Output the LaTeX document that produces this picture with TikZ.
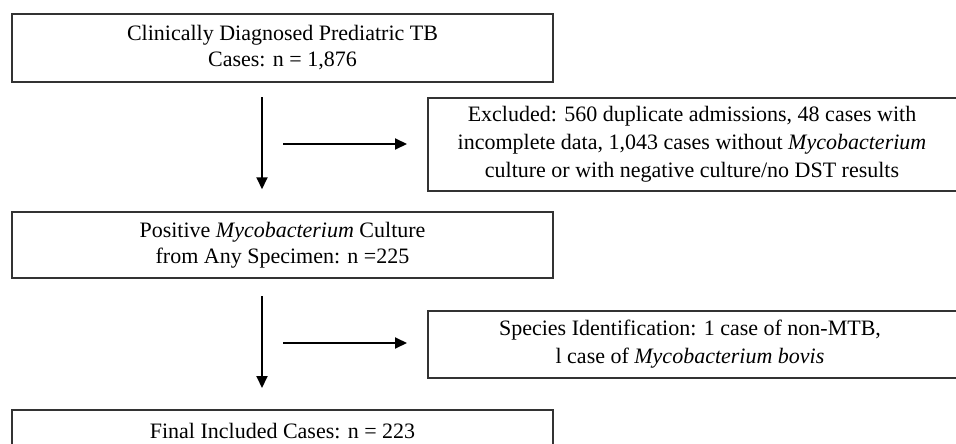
\documentclass[tikz,border=0pt]{standalone}
\usepackage{fontspec}
\setmainfont{Liberation Serif}
\usetikzlibrary{arrows.meta}
\begin{document}
\begin{tikzpicture}[x=1pt, y=-1pt,
		box/.style={draw=black!80, line width=1.5pt, minimum width=541pt, align=center, font=\fontsize{22}{26}\selectfont},
		frame/.style={draw=black!80, line width=1.5pt, anchor=north west, minimum width=560pt, inner sep=0pt},
		note/.style={align=center, font=\fontsize{22}{28}\selectfont},
		flow/.style={line width=2pt, -{Triangle[length=12pt,width=11pt]}}]
	\useasboundingbox (0,0) rectangle (956,444);
	\node[box, minimum height=68pt] (diag) at (282.5,48) {Clinically Diagnosed Prediatric TB\\Cases: n = 1,876};
	\node[box, minimum height=66pt] (pos) at (282.5,245) {Positive \textit{Mycobacterium} Culture\\from Any Specimen: n =225};
	\node[box, minimum height=42pt, anchor=north] (final) at (282.5,409) {Final Included Cases: n = 223};
	\node[frame, minimum height=93pt] (exclbox) at (427,97) {};
	\node[note] (excl) at (692,144) {Excluded: 560 duplicate admissions, 48 cases with\\incomplete data, 1,043 cases without \textit{Mycobacterium}\\culture or with negative culture/no DST results};
	\node[frame, minimum height=67pt] (specbox) at (427,310) {};
	\node[note] (spec) at (690,344) {Species Identification: 1 case of non-MTB,\\l case of \textit{Mycobacterium bovis}};
	\coordinate (d1) at (262,97);
	\coordinate (h1) at (283,144);
	\coordinate (d2) at (262,296);
	\coordinate (h2) at (283,343);
	\draw[flow, shorten >=22pt] (d1) -- (d1 |- pos.north);
	\draw[flow, shorten >=20pt] (h1) -- (h1 -| exclbox.west);
	\draw[flow, shorten >=21pt] (d2) -- (d2 |- final.north);
	\draw[flow, shorten >=20pt] (h2) -- (h2 -| specbox.west);
\end{tikzpicture}
\end{document}
